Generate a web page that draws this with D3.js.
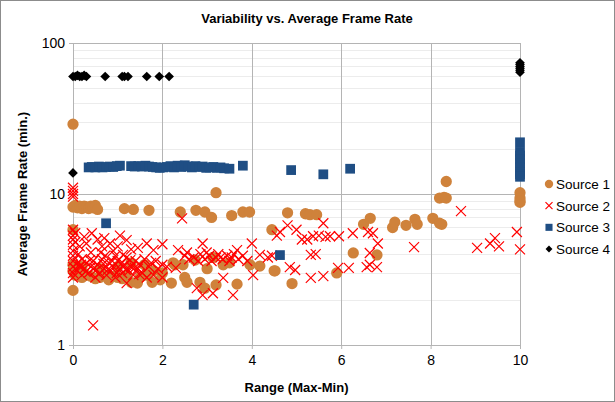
<!DOCTYPE html>
<html>
<head>
<meta charset="utf-8">
<script src="https://cdn.jsdelivr.net/npm/d3@7"></script>
<style>
  body { margin: 0; background: #fff; }
  text { font-family: Arial, "Liberation Sans", sans-serif; }
</style>
</head>
<body>
<div id="chart"></div>
<script>
const seriesNames = ['Source 1', 'Source 2', 'Source 3', 'Source 4']
const xTicks = [0, 2, 4, 6, 8, 10]
const yTicks = [1, 10, 100]

// [range, average frame rate]
const source1 = [
  [0, 29], [0, 2.3], [0, 5.8], [0, 3.1], [0, 3.4],
  [0, 8.2], [0.05, 8.4], [0.1, 8.1], [0.15, 8.3], [0.2, 8.0], [0.25, 8.3], [0.3, 8.2],
  [0.35, 8.0], [0.4, 8.3], [0.45, 8.1], [0.5, 8.4], [0.55, 7.9],
  [1.15, 8.0], [1.35, 7.9], [1.7, 7.8], [2.4, 7.6], [2.75, 7.8], [2.95, 7.6], [3.1, 7.0],
  [3.2, 10.2], [3.55, 7.2], [3.8, 7.6], [3.95, 7.6],
  [4.45, 5.8], [4.8, 7.5], [5.2, 7.4], [5.3, 7.3], [5.45, 7.3], [6.5, 6.3], [6.65, 6.9],
  [7.15, 6.0], [7.2, 6.5], [7.45, 6.2], [7.65, 6.8], [7.7, 6.3], [8.05, 6.9], [8.2, 6.4],
  [8.25, 6.3], [8.35, 12.1], [8.2, 9.4], [8.3, 9.5], [8.35, 9.4],
  [10, 10.2], [10, 9.4], [10, 8.8], [10, 9.0],
  [4.5, 3.1], [4.9, 2.55], [5.9, 3.0], [6.27, 4.07], [6.8, 3.95],
  [0.05, 2.9], [0.1, 3.0], [0.2, 2.8], [0.3, 2.9], [0.4, 2.85], [0.5, 2.75], [0.6, 2.8],
  [0.7, 2.9], [0.8, 2.7], [0.9, 2.85], [1.0, 2.8], [1.1, 2.75], [1.2, 2.9], [1.3, 2.6],
  [1.44, 2.57], [1.5, 2.8], [1.65, 2.9], [1.77, 2.6], [1.95, 2.7], [2.2, 2.57], [2.5, 2.8],
  [2.55, 2.6], [2.84, 2.6], [2.95, 2.38], [3.2, 2.5], [3.67, 2.53], [2.24, 3.5], [2.46, 3.4],
  [2.73, 3.65], [3.13, 3.8], [3.36, 3.4], [3.96, 3.4], [4.18, 3.33], [4.52, 3.1],
  [1.6, 3.4], [1.8, 3.1], [0.2, 3.3], [0.6, 3.2], [1.0, 3.3], [1.3, 3.5], [3.5, 3.5],
  [3.0, 3.2], [2.0, 3.0], [1.68, 3.05], [2.28, 3.4]
]

const source2 = [
  [0, 11], [0, 10.5], [0, 10], [0, 9.6], [0, 5.8], [0, 5.3], [0, 5], [0, 4.6], [0, 4.2],
  [0, 3.9], [0, 3.6], [0, 3.3], [0, 3.0], [0, 2.8], [0.05, 5.5], [0.05, 4.8], [0.05, 3.2],
  [0.3, 4.7], [0.42, 5.5], [0.55, 5.0], [0.65, 4.5], [0.83, 4.7], [0.9, 4.2], [1.0, 4.5],
  [1.2, 4.95], [1.3, 4.3], [1.45, 4.4], [1.65, 4.7], [1.8, 4.25], [2.0, 4.65], [2.44, 6.9],
  [2.35, 4.25], [2.55, 4.1], [2.9, 4.7], [2.99, 4.1], [3.3, 3.8], [3.67, 4.25], [4.0, 4.7],
  [4.18, 3.95], [4.36, 3.8], [4.56, 5.3],
  [0.1, 3.5], [0.1, 3.1], [0.15, 3.3], [0.2, 3.7], [0.2, 2.9], [0.25, 3.2], [0.3, 3.5],
  [0.35, 3.0], [0.4, 3.3], [0.45, 3.6], [0.5, 3.1], [0.5, 2.8], [0.55, 3.4], [0.6, 3.0],
  [0.65, 3.7], [0.7, 3.2], [0.75, 2.9], [0.8, 3.5], [0.85, 3.1], [0.9, 3.3], [0.95, 2.8],
  [1.0, 3.6], [1.05, 3.2], [1.1, 3.0], [1.15, 3.4], [1.2, 3.8], [1.25, 3.1], [1.3, 3.3],
  [1.35, 2.9], [1.4, 3.6], [1.45, 3.2], [1.5, 3.4], [1.55, 3.0], [1.6, 3.7], [1.7, 3.3],
  [1.75, 3.5], [1.8, 2.9], [1.85, 3.6], [1.9, 3.2], [2.0, 3.4], [2.1, 3.3], [1.65, 2.8],
  [1.2, 2.57], [2.0, 2.8], [2.3, 3.24],
  [0.12, 4.0], [0.18, 3.4], [0.28, 3.05], [0.38, 3.65], [0.48, 3.25], [0.58, 2.95],
  [0.68, 3.45], [0.78, 3.15], [0.88, 3.6], [0.98, 3.0], [1.08, 3.45], [1.18, 3.15],
  [1.28, 3.65], [1.38, 3.25], [1.48, 2.95], [0.62, 4.1], [0.72, 3.9], [1.12, 3.95],
  [0.25, 5.2], [0.15, 4.5], [0.7, 5.1], [1.05, 5.3], [0.95, 3.9], [0.4, 4.1],
  [2.5, 3.9], [2.6, 3.7], [2.7, 3.8], [2.8, 3.6], [2.85, 4.0], [2.95, 3.7], [3.05, 3.9],
  [3.1, 3.6], [3.2, 3.8], [3.25, 4.0], [3.35, 3.7], [3.45, 3.9], [3.5, 3.6], [3.55, 3.8],
  [3.6, 4.0], [3.7, 3.7], [3.8, 3.9], [3.9, 3.6], [2.77, 2.38], [2.9, 2.14], [3.13, 2.2],
  [3.36, 2.78], [3.58, 2.14], [4.03, 2.9],
  [4.63, 5.6], [4.8, 6.2], [5.0, 5.8], [5.12, 5.0], [5.24, 5.0], [5.37, 5.25], [5.5, 5.3],
  [5.65, 5.2], [5.75, 5.25], [5.6, 6.4], [5.95, 5.25], [6.26, 5.5], [6.6, 5.6], [6.71, 5.5],
  [6.82, 4.7], [7.63, 4.45], [8.68, 7.7], [9.04, 4.4], [9.33, 4.7], [9.44, 5.1], [9.53, 4.5],
  [9.93, 5.6], [10, 4.3], [4.45, 3.9], [4.85, 3.28], [4.97, 3.14], [5.32, 3.95], [5.43, 4.0],
  [5.32, 2.78], [5.6, 2.86], [5.93, 3.24], [6.17, 3.24], [6.57, 3.28], [6.64, 3.4],
  [6.8, 3.28], [6.64, 4.07], [0.45, 1.35]
]

const source3 = [
  [0.35, 15.0], [0.42, 15.1], [0.5, 15.0], [0.58, 15.2], [0.66, 15.0], [0.74, 15.1],
  [0.82, 15.2], [0.9, 15.1], [0.98, 15.3], [1.05, 15.4],
  [1.3, 15.3], [1.38, 15.2], [1.46, 15.3], [1.54, 15.2], [1.62, 15.4], [1.7, 15.2],
  [1.78, 15.1], [1.86, 15.0], [1.94, 14.9], [2.02, 15.0], [2.1, 15.1], [2.18, 15.3],
  [2.26, 15.0], [2.34, 15.4], [2.42, 15.1], [2.5, 15.5], [2.58, 15.2], [2.66, 15.0],
  [2.74, 15.3], [2.82, 15.1], [2.9, 15.2], [2.98, 14.9], [3.06, 15.0], [3.14, 15.1],
  [3.22, 14.9], [3.3, 15.0], [3.38, 14.8], [3.5, 14.7], [3.8, 15.4],
  [0.74, 6.4], [2.7, 1.85], [4.63, 3.94], [4.88, 14.4], [5.6, 13.5], [6.2, 14.7],
  [10, 22], [10, 19], [10, 18], [10, 17], [10, 16], [10, 15], [10, 14], [10, 13.5], [10, 13]
]

const source4 = [
  [0, 60], [0.05, 60], [0.1, 61], [0.15, 60], [0.2, 60], [0.25, 61], [0.3, 60],
  [0.72, 60], [1.1, 60], [1.15, 60], [1.23, 60], [1.65, 60], [1.93, 60], [2.15, 60],
  [0, 13.8], [10, 64], [10, 66], [10, 68], [10, 70], [10, 72], [10, 74]
]

const W = 615
const H = 402
const margin = { top: 43, left: 73, right: 95, bottom: 57 }
const width = W - margin.left - margin.right
const height = H - margin.top - margin.bottom

const orange = '#cf823b'
const red = '#ff0000'
const blue = '#1f4e84'

const root = d3.select('#chart')
  .append('svg')
  .attr('width', W)
  .attr('height', H)

root.append('rect')
  .attr('x', 0.5).attr('y', 0.5)
  .attr('width', W - 1).attr('height', H - 1)
  .attr('fill', '#fff')
  .attr('stroke', '#8c8c8c')

const svg = root.append('g')
  .attr('transform', 'translate(' + margin.left + ',' + margin.top + ')')

const x = d3.scaleLinear().domain([0, 10]).range([0, width])
const y = d3.scaleLog().domain([1, 100]).range([height, 0])

// minor grid
const minor = []
for (let d = 1; d < 100; d *= 10) {
  for (let k = 2; k < 10; k++) minor.push(d * k)
}
svg.append('g')
  .selectAll('line')
  .data(minor)
  .enter()
  .append('line')
  .attr('x1', 0).attr('x2', width)
  .attr('y1', d => Math.round(y(d)) + 0.5)
  .attr('y2', d => Math.round(y(d)) + 0.5)
  .attr('stroke', '#ececec')

// major grid
svg.append('g')
  .selectAll('line')
  .data(yTicks)
  .enter()
  .append('line')
  .attr('x1', 0).attr('x2', width)
  .attr('y1', d => Math.round(y(d)) + 0.5)
  .attr('y2', d => Math.round(y(d)) + 0.5)
  .attr('stroke', '#b4b4b4')

svg.append('g')
  .selectAll('line')
  .data(xTicks)
  .enter()
  .append('line')
  .attr('x1', d => Math.round(x(d)) + 0.5)
  .attr('x2', d => Math.round(x(d)) + 0.5)
  .attr('y1', 0).attr('y2', height)
  .attr('stroke', '#b4b4b4')

svg.append('rect')
  .attr('x', 0.5).attr('y', 0.5)
  .attr('width', width).attr('height', height)
  .attr('fill', 'none')
  .attr('stroke', '#b4b4b4')

// axes
const xAxis = d3.axisBottom(x).tickValues(xTicks).tickSize(4).tickPadding(6)
svg.append('g')
  .attr('class', 'axis x-axis')
  .attr('transform', 'translate(0,' + height + ')')
  .call(xAxis)

const yAxis = d3.axisLeft(y).tickValues(yTicks).tickFormat(d3.format('d')).tickSize(4).tickPadding(4)
svg.append('g')
  .attr('class', 'axis y-axis')
  .call(yAxis)

svg.selectAll('.axis path').attr('stroke', 'none')
svg.selectAll('.axis line').attr('stroke', '#b4b4b4')
svg.selectAll('.axis text').attr('font-size', 14).attr('fill', '#000')
  .attr('font-family', 'Arial, "Liberation Sans", sans-serif')

// marks
const symCircle = d3.symbol().type(d3.symbolCircle).size(100)
const symSquare = d3.symbol().type(d3.symbolSquare).size(95)
const symDiamond = d3.symbol().type(d3.symbolDiamond2).size(60)

function cross(s) {
  return 'M' + -s + ',' + -s + 'L' + s + ',' + s + 'M' + -s + ',' + s + 'L' + s + ',' + -s
}

svg.append('g')
  .selectAll('path')
  .data(source1)
  .enter()
  .append('path')
  .attr('d', symCircle)
  .attr('transform', d => 'translate(' + x(d[0]) + ',' + y(d[1]) + ')')
  .attr('fill', orange)

svg.append('g')
  .selectAll('path')
  .data(source2)
  .enter()
  .append('path')
  .attr('d', cross(5))
  .attr('transform', d => 'translate(' + x(d[0]) + ',' + y(d[1]) + ')')
  .attr('stroke', red)
  .attr('stroke-width', 1.2)
  .attr('fill', 'none')

svg.append('g')
  .selectAll('path')
  .data(source3)
  .enter()
  .append('path')
  .attr('d', symSquare)
  .attr('transform', d => 'translate(' + x(d[0]) + ',' + y(d[1]) + ')')
  .attr('fill', blue)

svg.append('g')
  .selectAll('path')
  .data(source4)
  .enter()
  .append('path')
  .attr('d', symDiamond)
  .attr('transform', d => 'translate(' + x(d[0]) + ',' + y(d[1]) + ')')
  .attr('fill', '#000')

// titles
root.append('text')
  .attr('x', 307).attr('y', 23)
  .attr('text-anchor', 'middle')
  .attr('font-size', 13).attr('font-weight', 'bold')
  .text('Variability vs. Average Frame Rate')

root.append('text')
  .attr('x', margin.left + width / 2).attr('y', 392)
  .attr('text-anchor', 'middle')
  .attr('font-size', 13).attr('font-weight', 'bold')
  .text('Range (Max-Min)')

root.append('text')
  .attr('transform', 'translate(27,' + (margin.top + height / 2) + ') rotate(-90)')
  .attr('text-anchor', 'middle')
  .attr('font-size', 13).attr('font-weight', 'bold')
  .text('Average Frame Rate (min.)')

// legend
const legendY = d3.scalePoint().domain(seriesNames).range([184, 249])
const legend = root.append('g')
  .selectAll('g')
  .data(seriesNames)
  .enter()
  .append('g')
  .attr('transform', d => 'translate(549,' + legendY(d) + ')')

legend.append('path')
  .attr('d', (d, i) => {
    if (i === 0) return d3.symbol().type(d3.symbolCircle).size(55)()
    if (i === 1) return cross(3.5)
    if (i === 2) return d3.symbol().type(d3.symbolSquare).size(50)()
    return d3.symbol().type(d3.symbolDiamond2).size(30)()
  })
  .attr('fill', (d, i) => [orange, 'none', blue, '#000'][i])
  .attr('stroke', (d, i) => i === 1 ? red : 'none')
  .attr('stroke-width', 1.2)

legend.append('text')
  .attr('x', 7).attr('y', 5)
  .attr('font-size', 13.5)
  .text(d => d)
</script>
</body>
</html>
